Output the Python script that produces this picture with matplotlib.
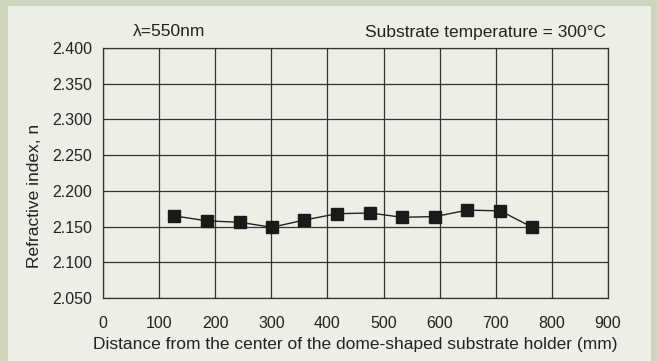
import matplotlib.pyplot as plt

# distance from center of dome (mm) and refractive index at 550 nm
distance = [127, 185, 244, 301, 358, 417, 476, 533, 592, 649, 708, 765]
n_index = [2.165, 2.158, 2.156, 2.149, 2.159, 2.168, 2.169, 2.163, 2.164, 2.173, 2.172, 2.149]

x_ticks = [0, 100, 200, 300, 400, 500, 600, 700, 800, 900]
y_ticks = [2.050, 2.100, 2.150, 2.200, 2.250, 2.300, 2.350, 2.400]

plt.rcParams['font.family'] = ['Liberation Sans Narrow', 'Liberation Sans', 'DejaVu Sans']

fig = plt.figure(figsize=(6.57, 3.61), dpi=100)
fig.patch.set_facecolor('#cfd4bc')

# lighter inner panel behind everything
bg = fig.add_axes([8 / 657, 0, (651 - 8) / 657, 1 - 6 / 361], zorder=-1)
bg.set_facecolor('#edeee7')
bg.set_xticks([])
bg.set_yticks([])
for s in bg.spines.values():
    s.set_visible(False)

ax = fig.add_axes([103 / 657, 1 - 298 / 361, (608 - 103) / 657, (298 - 48) / 361])
ax.set_facecolor('#edeee7')

ax.plot(distance, n_index, color='#222222', lw=1.0, marker='s', ms=9,
        markerfacecolor='#1a1a1a', markeredgecolor='#1a1a1a', zorder=3)

ax.set_xlim(0, 900)
ax.set_ylim(2.05, 2.40)
ax.set_xticks(x_ticks)
ax.set_yticks(y_ticks)
ax.set_yticklabels([f'{v:.3f}' for v in y_ticks])
ax.grid(True, color='#333333', lw=0.9)
ax.set_axisbelow(True)
ax.tick_params(length=0, labelsize=11.5, colors='#222222')
ax.tick_params(axis='x', pad=13)
ax.tick_params(axis='y', pad=8)
for s in ax.spines.values():
    s.set_color('#333333')
    s.set_linewidth(0.9)

ax.set_xlabel('Distance from the center of the dome-shaped substrate holder (mm)',
              fontsize=12.5, color='#222222', labelpad=4)
ax.set_ylabel('Refractive index, n', fontsize=12.5, color='#222222')
ax.yaxis.set_label_coords(-0.121, 0.41)

fig.text(169 / 657, 1 - 32 / 361, 'λ=550nm', fontsize=12.5, color='#222222',
         ha='center', va='center')
fig.text(606 / 657, 1 - 32 / 361, 'Substrate temperature = 300°C', fontsize=12.5,
         color='#222222', ha='right', va='center')

fig.savefig('out.png', dpi=100, facecolor=fig.get_facecolor())
